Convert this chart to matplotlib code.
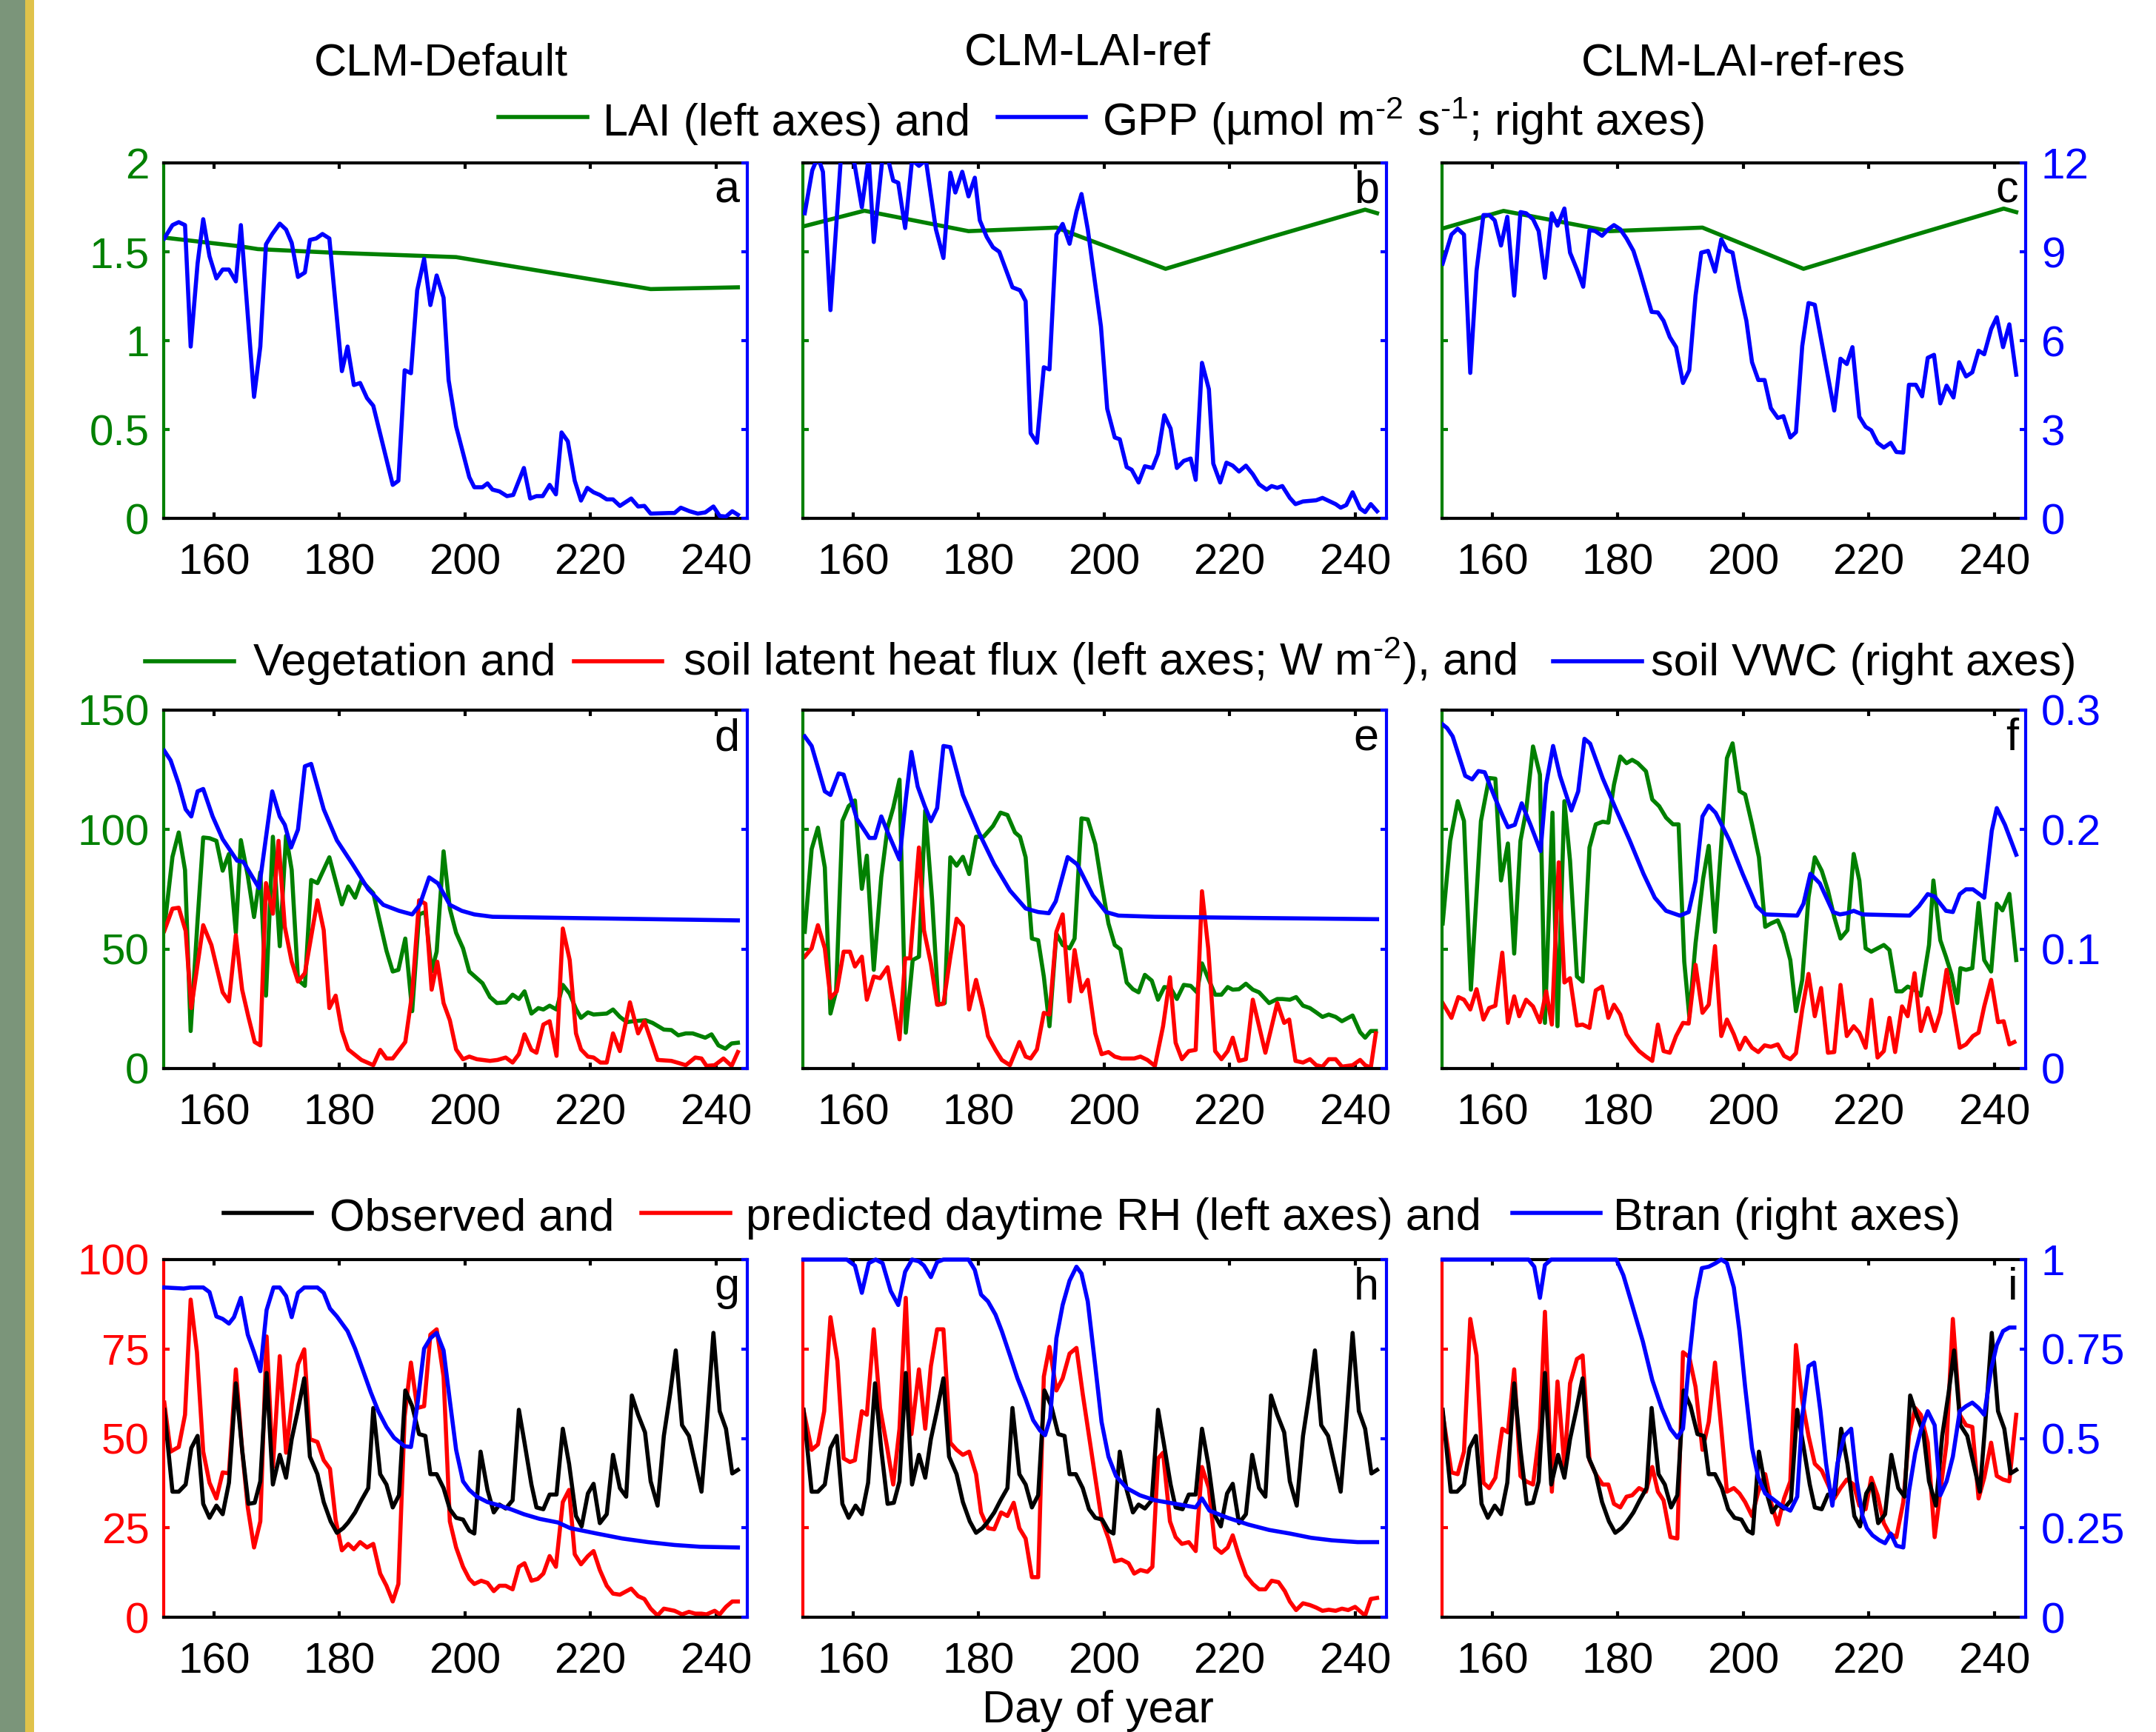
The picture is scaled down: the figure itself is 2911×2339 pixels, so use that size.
import matplotlib
matplotlib.use("Agg")
import matplotlib.pyplot as plt
from matplotlib.lines import Line2D
from matplotlib.patches import Rectangle

plt.rcParams['font.family'] = ['Liberation Sans', 'DejaVu Sans']
plt.rcParams['mathtext.fontset'] = 'custom'
plt.rcParams['mathtext.rm'] = 'Liberation Sans'
plt.rcParams['mathtext.it'] = 'Liberation Sans:italic'
plt.rcParams['mathtext.bf'] = 'Liberation Sans:bold'
plt.rcParams['mathtext.default'] = 'rm'

# ---------------- text / ticks ----------------
model_titles = ['CLM-Default', 'CLM-LAI-ref', 'CLM-LAI-ref-res']
panel_letters = [['a', 'b', 'c'], ['d', 'e', 'f'], ['g', 'h', 'i']]
x_ticks = [160, 180, 200, 220, 240]
x_label = 'Day of year'
legend_row1 = ['LAI (left axes) and', 'GPP (µmol m$^{\u20102}$ s$^{\u20101}$; right axes)']
legend_row2 = ['Vegetation and', 'soil latent heat flux (left axes; W m$^{\u20102}$), and', 'soil VWC (right axes)']
legend_row3 = ['Observed and', 'predicted daytime RH (left axes) and', 'Btran (right axes)']

lai_ticks = [0, 0.5, 1, 1.5, 2]
lai_ticklabels = ['0', '0.5', '1', '1.5', '2']
gpp_ticks = [0, 3, 6, 9, 12]
gpp_ticklabels = ['0', '3', '6', '9', '12']
le_ticks = [0, 50, 100, 150]
le_ticklabels = ['0', '50', '100', '150']
vwc_ticks = [0, 0.1, 0.2, 0.3]
vwc_ticklabels = ['0', '0.1', '0.2', '0.3']
rh_ticks = [0, 25, 50, 75, 100]
rh_ticklabels = ['0', '25', '50', '75', '100']
btran_ticks = [0, 0.25, 0.5, 0.75, 1]
btran_ticklabels = ['0', '0.25', '0.5', '0.75', '1']

# ---------------- data: (day of year, value) ----------------
lai_a = [(152, 1.58), (164.3, 1.53), (167, 1.515), (178.8, 1.495), (198.6, 1.47), (229.6, 1.29), (243.5, 1.30)]
lai_b = [(152, 1.642), (161.8, 1.731), (178.4, 1.616), (192.4, 1.636), (209.8, 1.404), (226.3, 1.58), (241.6, 1.737), (243.5, 1.717)]
lai_c = [(152, 1.63), (161.8, 1.73), (178.7, 1.616), (193.5, 1.636), (209.6, 1.404), (226.5, 1.586), (241.5, 1.743), (243.5, 1.723)]

gpp_a = [(152.1,9.45),(153.4,9.9),(154.4,10.0),(155.4,9.9),(156.3,5.8),(157.4,8.6),(158.3,10.1),(159.3,8.85),(160.4,8.1),(161.4,8.4),(162.4,8.4),(163.5,8.0),(164.3,9.9),(166.4,4.1),(167.4,5.8),(168.3,9.25),(169.3,9.6),(170.5,9.95),(171.5,9.75),(172.4,9.3),(173.4,8.15),(174.5,8.3),(175.3,9.4),(176.3,9.45),(177.3,9.6),(178.4,9.45),(180.4,4.97),(181.3,5.8),(182.3,4.5),(183.3,4.57),(184.4,4.06),(185.4,3.8),(188.5,1.13),(189.4,1.27),(190.4,5.0),(191.4,4.9),(192.4,7.7),(193.5,8.76),(194.5,7.2),(195.5,8.2),(196.6,7.45),(197.4,4.67),(198.6,3.1),(200.7,1.39),(201.5,1.05),(202.8,1.05),(203.6,1.18),(204.4,0.97),(205.5,0.91),(206.7,0.75),(207.7,0.79),(209.4,1.70),(210.4,0.67),(211.4,0.75),(212.4,0.75),(213.5,1.13),(214.5,0.81),(215.4,2.9),(216.4,2.6),(217.5,1.27),(218.5,0.6),(219.5,1.03),(220.5,0.88),(221.5,0.79),(222.6,0.64),(223.6,0.64),(224.7,0.42),(226.5,0.67),(227.6,0.4),(228.6,0.42),(229.6,0.16),(232.5,0.18),(233.4,0.18),(234.4,0.36),(235.8,0.24),(237.1,0.16),(238.3,0.2),(239.6,0.4),(240.6,0.08),(241.6,0.06),(242.6,0.24),(243.5,0.12)]
gpp_b = [(152.3,10.3),(153.5,11.75),(154.4,12.2),(155.2,11.7),(156.4,7.03),(158.1,12.3),(159.8,12.5),(161.4,10.5),(162.5,12.2),(163.3,9.33),(164.7,12.2),(165.5,12.2),(166.4,11.4),(167.2,11.33),(168.3,9.8),(169.4,12.1),(170.5,11.9),(171.6,12.1),(173.2,9.76),(174.4,8.79),(175.5,11.67),(176.3,11.0),(177.4,11.7),(178.4,10.87),(179.4,11.5),(180.2,10.06),(181.3,9.5),(182.3,9.15),(183.3,9.0),(185.4,7.8),(186.6,7.7),(187.5,7.33),(188.3,2.87),(189.3,2.55),(190.4,5.1),(191.3,5.03),(192.4,9.58),(193.4,9.94),(194.5,9.27),(195.6,10.36),(196.4,10.95),(197.4,9.76),(199.5,6.48),(200.5,3.7),(201.7,2.73),(202.5,2.67),(203.6,1.73),(204.4,1.64),(205.5,1.21),(206.5,1.76),(207.7,1.7),(208.6,2.18),(209.6,3.48),(210.6,3.03),(211.6,1.7),(212.7,1.94),(213.8,2.02),(214.6,1.3),(215.6,5.25),(216.7,4.36),(217.4,1.85),(218.5,1.21),(219.5,1.88),(220.5,1.78),(221.5,1.58),(222.6,1.78),(223.7,1.49),(224.7,1.15),(225.9,0.97),(226.7,1.09),(227.6,1.03),(228.4,1.09),(229.6,0.69),(230.5,0.48),(231.7,0.57),(233.8,0.61),(234.8,0.69),(236.9,0.48),(237.7,0.36),(238.6,0.45),(239.6,0.88),(240.8,0.33),(241.6,0.21),(242.5,0.48),(243.5,0.24)]
gpp_c = [(152.1,8.6),(153.5,9.58),(154.5,9.78),(155.5,9.58),(156.5,4.91),(157.5,8.36),(158.6,10.24),(159.5,10.24),(160.4,10.06),(161.4,9.21),(162.4,10.18),(163.5,7.52),(164.5,10.34),(165.4,10.3),(166.5,10.1),(167.4,9.7),(168.4,8.12),(169.5,10.3),(170.4,9.88),(171.5,10.46),(172.4,8.97),(173.5,8.4),(174.5,7.82),(175.5,9.73),(176.4,9.7),(177.5,9.54),(178.5,9.76),(179.4,9.9),(180.4,9.76),(181.4,9.45),(182.5,9.03),(183.5,8.36),(185.4,6.97),(186.4,6.95),(187.3,6.67),(188.3,6.12),(189.3,5.78),(190.4,4.57),(191.4,5.0),(192.4,7.52),(193.3,8.97),(194.4,9.03),(195.5,8.33),(196.5,9.42),(197.4,9.05),(198.3,8.97),(199.4,7.72),(200.5,6.67),(201.4,5.27),(202.4,4.67),(203.4,4.67),(204.4,3.72),(205.5,3.39),(206.4,3.45),(207.5,2.73),(208.4,2.91),(209.4,5.82),(210.4,7.27),(211.4,7.21),(214.5,3.64),(215.5,5.39),(216.5,5.21),(217.4,5.78),(218.5,3.43),(219.5,3.09),(220.4,2.97),(221.4,2.55),(222.4,2.39),(223.5,2.55),(224.4,2.24),(225.5,2.22),(226.4,4.51),(227.5,4.51),(228.5,4.12),(229.4,5.42),(230.4,5.52),(231.4,3.88),(232.4,4.48),(233.5,4.08),(234.4,5.27),(235.5,4.79),(236.5,4.93),(237.5,5.66),(238.4,5.54),(239.5,6.39),(240.4,6.79),(241.4,5.78),(242.4,6.55),(243.5,4.85)]

veg_d = [(152.1,58.6),(153.4,88.6),(154.4,98.8),(155.4,83.1),(156.3,15.7),(157.4,62.0),(158.3,96.7),(159.3,96.4),(160.4,95.3),(161.4,82.8),(162.4,89.8),(163.5,56.8),(164.3,95.6),(165.4,80.7),(166.4,63.4),(167.4,82.1),(168.3,30.5),(169.4,97.0),(170.5,51.2),(171.5,97.4),(172.4,83.1),(173.4,37.1),(174.5,34.6),(175.5,78.9),(176.5,77.6),(178.4,88.4),(180.4,68.7),(181.4,76.2),(182.5,71.5),(183.5,78.7),(185.4,73.4),(187.5,49.3),(188.5,40.6),(189.4,41.3),(190.5,54.4),(191.6,24.0),(192.7,64.5),(193.7,65.5),(194.7,40.6),(195.5,48.9),(196.6,90.9),(197.6,66.9),(198.6,56.8),(199.7,50.3),(200.7,40.6),(202.8,35.7),(204.0,29.9),(205.1,27.4),(206.5,27.7),(207.6,30.9),(208.6,29.1),(209.5,32.3),(210.6,23.0),(211.7,25.3),(212.5,24.7),(213.5,26.3),(214.6,24.7),(215.6,35.0),(216.7,31.3),(217.7,24.9),(218.5,21.2),(219.6,23.5),(220.5,22.6),(222.6,23.0),(223.6,24.7),(224.7,21.6),(225.8,19.4),(226.8,19.8),(228.8,20.2),(229.9,19.1),(231.7,16.3),(232.9,16.1),(234.0,13.9),(235.2,14.7),(236.3,14.7),(238.3,12.9),(239.3,14.3),(240.4,9.7),(241.5,8.3),(242.5,10.5),(243.5,10.8)]
soil_d = [(152.1,57.6),(153.4,66.9),(154.4,67.3),(155.5,57.6),(156.4,25.3),(158.3,60.0),(159.6,51.7),(161.4,31.9),(162.4,28.1),(163.5,55.8),(164.5,33.0),(165.5,21.6),(166.5,11.1),(167.4,9.7),(168.3,77.6),(169.4,64.8),(170.3,95.3),(171.3,59.3),(172.4,44.7),(173.4,36.4),(174.5,39.9),(176.5,70.4),(177.5,57.9),(178.4,25.3),(179.4,30.5),(180.4,15.7),(181.4,8.0),(183.5,3.6),(185.4,1.4),(186.5,7.8),(187.5,4.2),(188.5,4.2),(190.5,11.1),(191.6,31.6),(192.7,70.4),(193.7,69.0),(194.7,33.0),(195.6,44.7),(196.6,27.4),(197.6,20.2),(198.6,8.0),(199.7,3.9),(200.7,5.0),(201.9,3.9),(204.0,3.2),(205.2,3.6),(206.5,4.6),(207.6,2.5),(208.6,6.0),(209.5,14.3),(210.6,7.8),(211.4,6.6),(212.5,18.4),(213.5,19.8),(214.6,5.3),(215.6,58.6),(216.7,45.4),(217.7,14.7),(218.5,8.0),(219.6,5.0),(220.5,4.6),(221.6,2.5),(222.6,2.5),(223.6,14.7),(224.7,7.3),(226.3,27.7),(227.6,14.7),(228.6,19.8),(229.6,12.2),(230.7,3.6),(232.9,3.2),(234.2,2.2),(235.2,1.4),(236.7,4.6),(237.7,4.2),(238.5,1.1),(239.8,1.4),(241.2,4.2),(242.5,1.1),(243.5,6.9)]
vwc_d = [(152.1,0.266),(153.1,0.258),(154.4,0.238),(155.5,0.217),(156.4,0.211),(157.4,0.232),(158.3,0.234),(159.8,0.211),(161.4,0.192),(163.7,0.174),(164.7,0.173),(167.2,0.151),(169.3,0.232),(170.5,0.211),(171.3,0.204),(172.3,0.185),(173.4,0.2),(174.5,0.253),(175.5,0.255),(177.5,0.217),(179.6,0.191),(182.1,0.171),(184.6,0.150),(187.0,0.137),(189.5,0.132),(191.6,0.129),(192.8,0.137),(194.3,0.160),(195.7,0.155),(197.6,0.137),(199.5,0.132),(201.5,0.129),(204.4,0.127),(216.8,0.126),(243.5,0.124)]

veg_e = [(152.3,57.2),(153.4,91.8),(154.4,100.8),(155.5,84.2),(156.4,23.0),(157.3,32.3),(158.3,103.6),(159.3,109.8),(160.3,112.2),(161.4,75.2),(162.2,89.1),(163.3,41.3),(164.5,80.1),(165.5,100.8),(166.4,109.1),(167.4,120.9),(168.4,15.0),(169.5,45.4),(170.5,46.8),(171.5,108.0),(172.6,70.4),(173.6,26.7),(174.6,27.4),(175.5,88.4),(176.5,84.9),(177.5,88.6),(178.5,81.4),(179.6,97.0),(180.8,97.0),(182.3,101.5),(183.5,107.1),(184.6,106.1),(185.8,98.8),(186.6,97.0),(187.5,88.4),(188.5,54.4),(189.5,53.7),(190.4,38.5),(191.3,17.7),(192.4,56.5),(193.4,51.7),(194.5,50.3),(195.3,54.4),(196.4,104.7),(197.4,104.3),(198.6,93.9),(199.6,77.3),(200.7,60.7),(201.7,51.7),(202.6,49.9),(203.6,36.0),(204.6,33.2),(205.5,31.9),(206.5,39.2),(207.6,36.8),(208.6,28.8),(209.6,34.1),(210.6,33.7),(211.6,29.1),(212.7,35.0),(213.8,34.6),(214.8,31.9),(215.6,44.0),(216.7,37.1),(217.7,30.9),(218.7,30.9),(219.7,34.1),(220.5,33.0),(221.5,33.2),(222.6,35.5),(223.7,33.0),(224.7,31.9),(226.3,27.4),(227.6,29.1),(228.4,29.1),(229.6,28.8),(230.6,29.9),(231.7,26.3),(232.8,25.3),(233.8,23.5),(234.8,21.6),(235.8,22.6),(236.9,21.6),(237.9,19.8),(239.6,22.2),(240.8,15.2),(241.6,12.9),(242.5,15.7),(243.3,15.7)]
soil_e = [(152.3,46.8),(153.4,50.3),(154.4,60.0),(155.5,50.3),(156.4,29.5),(157.4,32.3),(158.5,48.9),(159.5,48.9),(160.3,42.7),(161.4,46.8),(162.2,28.8),(163.3,38.5),(164.3,37.8),(165.5,42.4),(166.6,25.3),(167.4,12.2),(168.3,46.1),(169.1,46.1),(170.5,92.5),(171.3,57.9),(172.4,44.0),(173.4,26.7),(174.4,27.1),(175.5,46.8),(176.5,62.7),(177.5,59.6),(178.5,24.7),(179.6,37.1),(180.7,24.9),(181.5,13.6),(182.7,7.8),(183.7,3.6),(185.0,1.4),(186.5,11.1),(187.5,5.0),(188.3,4.2),(189.3,8.0),(190.4,23.3),(191.3,22.6),(192.4,57.2),(193.4,64.5),(194.5,28.1),(195.3,49.6),(196.4,32.3),(197.4,37.1),(198.6,14.7),(199.6,6.0),(200.7,6.9),(201.7,5.0),(202.8,4.2),(204.8,4.2),(205.8,5.0),(206.9,3.6),(208.1,1.1),(209.4,17.7),(210.5,38.2),(211.4,10.8),(212.4,3.9),(213.5,7.3),(214.6,7.8),(215.6,74.2),(216.6,50.3),(217.7,7.3),(218.7,3.9),(219.7,7.3),(220.5,12.9),(221.5,3.2),(222.6,3.9),(223.7,28.8),(224.7,17.7),(225.7,6.6),(227.6,27.4),(228.7,19.1),(229.5,20.5),(230.5,3.2),(231.7,2.5),(232.8,3.9),(233.8,1.4),(234.8,0.8),(235.8,3.9),(236.9,3.9),(237.9,0.8),(239.6,1.4),(240.8,3.6),(241.6,1.4),(242.5,0.4),(243.3,14.7)]
vwc_e = [(152.3,0.278),(153.4,0.270),(154.4,0.252),(155.5,0.232),(156.4,0.229),(157.7,0.247),(158.5,0.246),(160.6,0.209),(162.6,0.193),(163.5,0.193),(164.5,0.211),(165.5,0.198),(167.4,0.175),(168.4,0.225),(169.3,0.265),(170.3,0.236),(171.4,0.220),(172.4,0.207),(173.4,0.218),(174.4,0.270),(175.5,0.269),(177.5,0.229),(180.0,0.198),(182.5,0.171),(185.0,0.149),(187.5,0.134),(189.5,0.131),(191.2,0.130),(192.3,0.140),(194.2,0.177),(195.7,0.171),(198.2,0.145),(200.3,0.131),(202.3,0.128),(208.1,0.127),(224.7,0.126),(243.5,0.125)]

veg_f = [(152.1,60.7),(153.3,95.3),(154.5,111.9),(155.5,103.6),(156.6,33.0),(158.2,103.6),(159.5,121.6),(160.5,121.3),(161.4,78.7),(162.5,94.2),(163.5,48.1),(164.5,95.3),(165.4,107.8),(166.5,134.8),(167.6,123.0),(168.4,19.1),(169.6,107.1),(170.4,17.7),(171.5,111.9),(172.4,87.0),(173.5,38.5),(174.4,36.4),(175.5,92.5),(176.5,102.2),(177.6,103.3),(178.5,102.9),(179.4,118.8),(180.4,130.6),(181.4,127.8),(182.3,129.2),(183.2,127.8),(184.5,124.4),(185.5,112.6),(186.6,109.8),(187.7,105.0),(188.8,102.2),(189.7,102.2),(190.6,44.7),(191.4,21.9),(192.4,52.4),(193.6,79.4),(194.5,93.2),(195.5,57.2),(196.5,93.9),(197.4,129.9),(198.3,136.1),(199.4,116.1),(200.3,114.7),(201.4,102.2),(202.5,88.4),(203.5,59.3),(204.4,60.7),(205.5,62.0),(206.4,56.5),(207.5,45.4),(208.4,24.0),(209.4,37.1),(210.4,71.7),(211.4,88.4),(212.5,82.8),(213.5,74.5),(214.5,63.4),(215.5,54.4),(216.6,57.9),(217.6,89.8),(218.5,78.7),(219.5,50.3),(220.4,48.9),(221.4,50.3),(222.4,51.7),(223.3,49.6),(224.4,32.3),(225.3,32.3),(226.2,34.3),(227.3,33.0),(228.3,30.5),(229.6,51.7),(230.3,78.7),(231.4,53.7),(232.3,46.8),(233.2,39.2),(234.1,27.4),(234.6,42.0),(235.5,41.3),(236.5,42.0),(237.5,69.3),(238.4,45.4),(239.5,40.6),(240.4,69.0),(241.3,66.2),(242.4,73.1),(243.5,45.4)]
soil_f = [(152.1,27.4),(153.5,21.2),(154.6,29.9),(155.5,28.8),(156.5,24.7),(157.5,33.2),(158.6,20.5),(159.5,25.3),(160.5,26.3),(161.6,48.5),(162.5,19.1),(163.5,30.2),(164.3,21.9),(165.4,28.8),(166.5,26.0),(167.6,19.4),(168.6,32.3),(169.5,18.4),(170.6,86.3),(171.5,36.0),(172.4,37.8),(173.5,18.0),(174.4,18.4),(175.5,17.0),(176.5,32.7),(177.5,34.3),(178.5,21.2),(179.4,26.7),(180.4,22.6),(181.4,14.3),(182.3,10.8),(183.4,7.3),(184.5,5.0),(185.5,3.2),(186.4,18.4),(187.3,7.3),(188.3,6.6),(189.3,13.6),(190.4,19.1),(191.3,18.8),(192.4,43.4),(193.5,23.3),(194.5,26.7),(195.5,51.2),(196.5,13.6),(197.4,20.5),(198.5,14.3),(199.4,8.0),(200.3,12.9),(201.4,8.7),(202.4,6.9),(203.4,9.7),(204.4,9.1),(205.5,10.1),(206.5,5.3),(207.5,3.9),(208.4,6.4),(209.4,24.7),(210.4,39.6),(211.4,21.9),(212.4,33.7),(213.5,6.6),(214.5,6.9),(215.5,35.0),(216.5,13.6),(217.6,17.7),(218.5,15.0),(219.5,8.7),(220.4,28.8),(221.4,4.6),(222.4,7.3),(223.3,21.2),(224.2,6.9),(225.3,26.0),(226.2,21.9),(227.3,39.9),(228.3,15.7),(229.4,25.3),(230.5,15.7),(231.4,23.3),(232.4,41.3),(233.4,26.0),(234.5,8.7),(235.5,10.1),(236.6,13.6),(237.5,15.0),(238.4,26.0),(239.5,37.1),(240.6,19.4),(241.5,19.8),(242.4,10.1),(243.2,11.1)]
vwc_f = [(152.1,0.288),(152.8,0.285),(153.7,0.278),(155.7,0.245),(156.8,0.242),(157.8,0.249),(158.8,0.248),(160.4,0.227),(161.7,0.211),(162.5,0.202),(163.6,0.204),(164.7,0.222),(166.1,0.204),(167.7,0.182),(168.6,0.238),(169.7,0.270),(170.8,0.245),(172.6,0.216),(173.7,0.232),(174.7,0.276),(175.6,0.272),(177.6,0.243),(179.8,0.216),(181.9,0.191),(184.1,0.163),(185.9,0.143),(187.7,0.132),(189.9,0.128),(191.3,0.131),(192.4,0.157),(193.5,0.211),(194.5,0.220),(195.6,0.214),(197.8,0.191),(199.9,0.163),(202.1,0.136),(203.5,0.129),(208.6,0.128),(209.6,0.138),(210.7,0.163),(212.2,0.155),(214.3,0.131),(215.4,0.129),(216.5,0.130),(217.6,0.132),(219.0,0.129),(226.5,0.128),(228.0,0.136),(229.4,0.146),(230.5,0.144),(232.3,0.132),(233.4,0.131),(234.5,0.146),(235.5,0.150),(236.6,0.150),(238.4,0.143),(239.6,0.199),(240.4,0.218),(241.7,0.204),(243.5,0.179)]

rh_observed = [(152.1,58.0),(153.4,35.1),(154.4,35.1),(155.5,37.1),(156.4,47.3),(157.4,50.7),(158.3,31.7),(159.3,27.8),(160.4,31.2),(161.4,28.8),(162.4,37.6),(163.5,65.4),(164.5,46.8),(165.5,31.7),(166.5,32.0),(167.4,38.0),(168.4,68.3),(169.4,37.1),(170.5,45.4),(171.5,39.0),(172.4,49.8),(173.4,58.0),(174.4,66.8),(175.3,44.9),(176.5,40.0),(177.5,32.2),(178.6,26.8),(179.6,23.6),(180.6,24.9),(181.4,26.5),(182.5,29.3),(183.5,32.7),(184.6,36.1),(185.4,58.5),(186.5,40.0),(187.5,37.1),(188.5,30.7),(189.5,34.1),(190.5,63.4),(191.6,59.0),(192.7,51.2),(193.7,50.7),(194.5,40.0),(195.5,40.0),(196.6,36.1),(197.6,30.2),(198.6,27.8),(199.7,27.3),(200.7,24.2),(201.5,23.4),(202.5,46.3),(203.6,35.6),(204.6,29.3),(205.5,31.5),(206.5,30.4),(207.6,32.7),(208.6,58.0),(209.5,48.8),(210.6,37.1),(211.4,30.7),(212.5,30.2),(213.5,34.3),(214.6,34.3),(215.6,52.7),(216.6,42.9),(217.7,28.3),(218.6,25.4),(219.6,34.6),(220.5,37.3),(221.5,26.3),(222.6,28.8),(223.6,45.4),(224.7,36.1),(225.7,33.7),(226.6,62.0),(227.6,56.6),(228.7,51.7),(229.6,38.0),(230.7,31.2),(231.7,50.7),(232.7,62.4),(233.6,74.6),(234.6,53.7),(235.7,50.7),(236.7,42.9),(237.7,35.1),(238.5,52.7),(239.6,79.5),(240.6,57.6),(241.6,52.7),(242.6,40.2),(243.5,41.2)]

rh_pred_g = [(152.1,60.0),(153.1,46.3),(154.4,47.6),(155.4,56.6),(156.3,88.8),(157.3,74.1),(158.3,46.3),(159.3,37.6),(160.4,33.2),(161.4,40.5),(162.4,40.2),(163.5,69.3),(164.5,46.8),(165.4,30.7),(166.4,19.5),(167.4,26.8),(168.4,78.5),(169.4,41.9),(170.5,73.0),(171.5,46.0),(172.4,59.5),(173.4,70.7),(174.4,74.9),(175.3,49.8),(176.5,49.0),(177.5,43.9),(178.5,41.5),(179.4,27.3),(180.4,18.7),(181.4,20.5),(182.3,19.0),(183.3,21.0),(184.4,19.5),(185.4,20.5),(186.5,12.2),(187.5,8.8),(188.5,4.4),(189.4,9.3),(190.4,56.1),(191.4,71.2),(192.4,58.5),(193.5,59.0),(194.5,79.0),(195.5,80.5),(196.6,67.3),(197.6,26.8),(198.6,19.5),(199.7,14.1),(200.7,10.7),(201.5,9.3),(202.6,10.2),(203.6,9.6),(204.6,7.3),(205.5,8.8),(206.5,8.8),(207.6,7.8),(208.6,14.1),(209.5,15.1),(210.6,10.2),(211.6,10.7),(212.5,12.2),(213.5,17.1),(214.5,14.1),(215.6,32.2),(216.6,35.6),(217.5,17.6),(218.5,14.8),(219.6,17.1),(220.5,18.5),(221.5,13.2),(222.6,8.8),(223.6,6.6),(224.7,6.3),(226.5,8.0),(227.6,5.9),(228.6,5.1),(229.6,2.4),(230.7,0.5),(231.7,2.4),(233.4,1.8),(234.6,0.8),(235.7,1.5),(236.7,1.0),(237.7,1.0),(238.5,0.8),(239.8,1.8),(240.6,0.8),(241.6,2.9),(242.6,4.4),(243.5,4.4)]
rh_pred_h = [(152.1,58.0),(153.4,46.8),(154.4,48.3),(155.4,57.6),(156.4,83.9),(157.5,71.7),(158.5,44.4),(159.5,43.4),(160.3,43.9),(161.4,57.6),(162.2,56.6),(163.3,80.5),(164.3,58.5),(165.4,47.8),(166.4,37.1),(167.4,52.7),(168.4,89.3),(169.3,51.2),(170.5,69.3),(171.5,52.7),(172.4,70.2),(173.4,80.5),(174.4,80.5),(175.5,48.8),(176.5,46.8),(177.5,45.4),(178.5,46.3),(179.6,40.0),(180.4,29.3),(181.5,24.9),(182.5,24.6),(183.6,29.3),(184.6,28.3),(185.6,32.0),(186.5,24.9),(187.5,22.0),(188.5,11.2),(189.5,11.2),(190.4,67.3),(191.3,75.6),(192.4,63.4),(193.4,66.8),(194.5,73.7),(195.6,75.3),(196.6,62.4),(197.6,50.7),(198.6,39.0),(199.6,27.3),(200.7,22.0),(201.7,15.6),(202.8,16.1),(203.9,15.1),(204.8,12.2),(205.8,13.2),(206.9,12.7),(207.7,14.1),(208.6,44.4),(209.4,46.0),(210.5,26.8),(211.4,22.4),(212.4,20.5),(213.5,21.0),(214.6,18.5),(215.6,42.0),(216.7,36.1),(217.7,19.5),(218.7,18.0),(219.7,19.5),(220.5,22.9),(221.5,17.1),(222.6,11.7),(223.7,9.3),(224.7,7.8),(225.7,7.8),(226.7,10.2),(227.8,9.8),(228.8,7.3),(229.6,4.4),(230.6,2.0),(231.7,3.9),(232.8,3.4),(233.8,2.7),(234.8,1.8),(235.8,2.1),(236.9,1.8),(237.9,2.4),(238.9,2.0),(240.0,2.9),(241.1,1.2),(241.6,0.5),(242.5,5.1),(243.5,5.4)]
rh_pred_i = [(152.1,57.0),(153.5,40.5),(154.5,40.0),(155.5,46.3),(156.5,83.4),(157.5,73.2),(158.6,37.6),(159.5,36.1),(160.5,39.0),(161.6,52.7),(162.5,51.7),(163.5,69.3),(164.5,39.5),(165.4,38.0),(166.5,37.1),(167.6,52.7),(168.4,85.4),(169.5,35.1),(170.4,65.9),(171.5,42.4),(172.4,65.4),(173.5,72.2),(174.4,73.2),(175.5,43.9),(176.5,40.0),(177.6,37.1),(178.5,37.1),(179.4,31.7),(180.4,30.7),(181.4,33.7),(182.3,34.1),(183.4,36.1),(184.5,35.1),(185.5,42.0),(186.4,35.1),(187.3,32.7),(188.4,22.4),(189.5,22.0),(190.4,74.1),(191.4,72.7),(192.4,64.4),(193.5,46.8),(194.5,54.6),(195.5,71.2),(196.5,52.7),(197.4,35.1),(198.5,36.1),(199.4,34.6),(200.3,32.2),(201.4,28.3),(202.4,35.1),(203.5,40.0),(204.4,32.2),(205.5,25.9),(206.5,33.2),(207.5,38.0),(208.4,76.1),(209.4,60.5),(210.4,50.7),(211.4,42.9),(212.5,41.0),(213.5,37.1),(214.5,33.2),(215.5,36.1),(216.5,38.5),(217.6,37.1),(218.5,31.2),(219.5,30.2),(220.4,39.0),(221.4,34.1),(222.4,26.3),(223.3,23.4),(224.4,22.4),(225.5,32.2),(226.4,50.7),(227.4,58.5),(228.3,56.6),(229.4,48.8),(230.5,22.4),(231.4,35.1),(232.4,48.8),(233.4,83.4),(234.5,56.6),(235.5,53.7),(236.5,53.2),(237.5,33.2),(238.4,39.0),(239.5,48.8),(240.4,39.5),(241.4,38.5),(242.4,38.0),(243.5,56.6)]

btran_g = [(152.1,0.922),(155.2,0.919),(156.3,0.922),(158.3,0.922),(159.3,0.909),(160.4,0.841),(161.4,0.834),(162.4,0.821),(163.2,0.839),(164.3,0.893),(165.4,0.79),(166.4,0.741),(167.4,0.688),(168.4,0.859),(169.5,0.922),(170.5,0.922),(171.5,0.898),(172.4,0.839),(173.4,0.907),(174.4,0.922),(176.5,0.922),(177.5,0.907),(178.5,0.863),(179.6,0.841),(181.3,0.8),(182.5,0.751),(183.7,0.693),(185.0,0.629),(186.2,0.576),(187.5,0.532),(188.7,0.502),(190.4,0.478),(191.4,0.476),(192.4,0.59),(193.5,0.751),(194.5,0.78),(195.5,0.795),(196.6,0.746),(197.6,0.605),(198.6,0.468),(199.7,0.380),(200.7,0.356),(201.9,0.337),(203.6,0.322),(205.2,0.314),(207.3,0.302),(209.4,0.288),(211.9,0.275),(214.8,0.265),(216.8,0.249),(221.0,0.234),(225.1,0.22),(229.2,0.21),(233.4,0.202),(237.5,0.197),(243.5,0.195)]
btran_h = [(152.1,1.0),(159.0,1.0),(160.3,0.983),(161.4,0.907),(162.5,0.99),(163.6,1.0),(164.7,0.99),(166.0,0.912),(167.2,0.873),(168.3,0.966),(169.4,1.0),(170.5,0.995),(171.3,0.983),(172.4,0.951),(173.4,0.993),(174.4,1.0),(178.4,1.0),(179.4,0.971),(180.4,0.902),(181.5,0.883),(182.7,0.846),(183.7,0.8),(185.0,0.732),(186.2,0.668),(187.5,0.61),(188.7,0.551),(189.8,0.522),(190.6,0.509),(191.4,0.556),(192.4,0.78),(193.4,0.873),(194.5,0.941),(195.6,0.98),(196.4,0.961),(197.4,0.883),(198.6,0.702),(199.6,0.546),(200.7,0.449),(201.9,0.395),(203.6,0.361),(205.7,0.341),(208.1,0.327),(211.4,0.317),(214.6,0.307),(215.6,0.332),(216.8,0.298),(219.7,0.278),(223.0,0.259),(226.3,0.244),(229.6,0.234),(233.0,0.222),(236.3,0.215),(240.4,0.21),(243.5,0.21)]
btran_i = [(152.1,1.0),(165.8,1.0),(166.7,0.98),(167.6,0.893),(168.4,0.985),(169.4,1.0),(179.8,1.0),(180.9,0.956),(182.3,0.873),(184.0,0.771),(185.5,0.663),(187.0,0.585),(188.4,0.527),(189.5,0.502),(190.4,0.527),(191.4,0.722),(192.4,0.888),(193.4,0.976),(194.5,0.98),(195.6,0.99),(196.5,1.0),(197.4,0.99),(198.5,0.922),(199.4,0.8),(200.3,0.644),(201.4,0.473),(202.4,0.39),(203.5,0.346),(204.6,0.332),(205.7,0.317),(206.5,0.307),(207.5,0.298),(208.6,0.337),(209.4,0.561),(210.4,0.702),(211.3,0.712),(212.3,0.576),(213.2,0.429),(214.2,0.312),(215.0,0.429),(216.1,0.507),(217.2,0.527),(218.1,0.38),(219.0,0.283),(219.7,0.249),(220.6,0.229),(221.7,0.215),(222.6,0.207),(223.5,0.234),(224.4,0.2),(225.5,0.195),(226.4,0.351),(227.4,0.459),(228.3,0.522),(229.4,0.576),(230.5,0.537),(231.4,0.341),(232.4,0.38),(233.4,0.449),(234.5,0.576),(235.5,0.59),(236.5,0.6),(237.5,0.585),(238.4,0.566),(239.5,0.693),(240.4,0.761),(241.4,0.8),(242.4,0.81),(243.2,0.81)]

# ---------------- style ----------------
GREEN = '#008000'
BLUE = '#0000ff'
RED = '#ff0000'
BLACK = '#000000'
LW = 4.0
SPINE_LW = 3.0
TICK_FS = 42
TEXT_FS = 44

W, H = 2911, 2339
fig = plt.figure(figsize=(W / 100, H / 100), dpi=100)
fig.patch.set_facecolor('white')

# left decorative strip
fig.add_artist(Rectangle((0, 0), 34 / W, 1, transform=fig.transFigure, facecolor='#7b957a', edgecolor='none'))
fig.add_artist(Rectangle((34 / W, 0), 12 / W, 1, transform=fig.transFigure, facecolor='#e0c24a', edgecolor='none'))

col_left = [221, 1084, 1947]
col_width = 788
row_top = [220, 959, 1701]
row_height = [480, 484, 483]


def xy(series):
    return [p[0] for p in series], [p[1] for p in series]


rows = [
    dict(left=[[lai_a], [lai_b], [lai_c]], left_colors=[GREEN], right=[gpp_a, gpp_b, gpp_c],
         lcol=GREEN, lticks=lai_ticks, llabels=lai_ticklabels, lylim=(0, 2),
         rticks=gpp_ticks, rlabels=gpp_ticklabels, rylim=(0, 12), rclip=True),
    dict(left=[[veg_d, soil_d], [veg_e, soil_e], [veg_f, soil_f]], left_colors=[GREEN, RED], right=[vwc_d, vwc_e, vwc_f],
         lcol=GREEN, lticks=le_ticks, llabels=le_ticklabels, lylim=(0, 150),
         rticks=vwc_ticks, rlabels=vwc_ticklabels, rylim=(0, 0.3), rclip=True),
    dict(left=[[rh_pred_g, rh_observed], [rh_pred_h, rh_observed], [rh_pred_i, rh_observed]], left_colors=[RED, BLACK],
         right=[btran_g, btran_h, btran_i],
         lcol=RED, lticks=rh_ticks, llabels=rh_ticklabels, lylim=(0, 100),
         rticks=btran_ticks, rlabels=btran_ticklabels, rylim=(0, 1), rclip=False),
]

for r, cfg in enumerate(rows):
    for c in range(3):
        rect = [col_left[c] / W, 1 - (row_top[r] + row_height[r]) / H, col_width / W, row_height[r] / H]
        ax = fig.add_axes(rect)
        axr = ax.twinx()
        for s, colr in zip(cfg['left'][c], cfg['left_colors']):
            xs, ys = xy(s)
            ax.plot(xs, ys, color=colr, lw=LW, solid_joinstyle='round')
        xs, ys = xy(cfg['right'][c])
        axr.plot(xs, ys, color=BLUE, lw=LW, clip_on=cfg['rclip'], solid_joinstyle='round')

        ax.set_xlim(152, 245)
        ax.set_ylim(*cfg['lylim'])
        axr.set_ylim(*cfg['rylim'])
        ax.set_xticks(x_ticks)
        ax.set_xticklabels([str(t) for t in x_ticks])
        ax.set_yticks(cfg['lticks'])
        ax.set_yticklabels(cfg['llabels'] if c == 0 else [''] * len(cfg['lticks']))
        axr.set_yticks(cfg['rticks'])
        axr.set_yticklabels(cfg['rlabels'] if c == 2 else [''] * len(cfg['rticks']))

        ax.tick_params(axis='x', direction='in', top=True, bottom=True, length=6, width=SPINE_LW,
                       colors=BLACK, labelsize=TICK_FS, pad=24)
        ax.tick_params(axis='y', direction='in', left=True, right=False, length=6, width=SPINE_LW,
                       colors=cfg['lcol'], labelsize=TICK_FS, pad=14)
        axr.tick_params(axis='y', direction='in', right=True, left=False, length=6, width=SPINE_LW,
                        colors=BLUE, labelsize=TICK_FS, pad=15)

        for sp in ['top', 'bottom']:
            ax.spines[sp].set_color(BLACK)
            ax.spines[sp].set_linewidth(SPINE_LW)
        ax.spines['left'].set_color(cfg['lcol'])
        ax.spines['left'].set_linewidth(SPINE_LW)
        ax.spines['right'].set_visible(False)
        for sp in ['top', 'bottom', 'left']:
            axr.spines[sp].set_visible(False)
        axr.spines['right'].set_color(BLUE)
        axr.spines['right'].set_linewidth(SPINE_LW)

        axr.text(0.987, 0.8875, panel_letters[r][c], transform=axr.transAxes,
                 ha='right', va='baseline', fontsize=TEXT_FS, color=BLACK)

# column titles
fig.text(595 / W, 1 - 102 / H, model_titles[0], ha='center', va='baseline', fontsize=TEXT_FS)
fig.text(1468 / W, 1 - 88 / H, model_titles[1], ha='center', va='baseline', fontsize=TEXT_FS)
fig.text(2354 / W, 1 - 102 / H, model_titles[2], ha='center', va='baseline', fontsize=TEXT_FS)


def legend_item(x0, x1, y_line, color, x_text, y_base, text):
    fig.add_artist(Line2D([x0 / W, x1 / W], [1 - y_line / H, 1 - y_line / H],
                          transform=fig.transFigure, color=color, lw=LW))
    fig.text(x_text / W, 1 - y_base / H, text, ha='left', va='baseline', fontsize=TEXT_FS)


legend_item(673, 793, 158, GREEN, 814, 183, legend_row1[0])
legend_item(1347, 1466, 158, BLUE, 1488, 183, legend_row1[1])

legend_item(196, 316, 893, GREEN, 342, 912, legend_row2[0])
legend_item(775, 894, 893, RED, 922, 912, legend_row2[1])
legend_item(2097, 2217, 893, BLUE, 2229, 912, legend_row2[2])

legend_item(302, 421, 1638, BLACK, 445, 1661, legend_row3[0])
legend_item(866, 986, 1638, RED, 1007, 1661, legend_row3[1])
legend_item(2042, 2161, 1638, BLUE, 2178, 1661, legend_row3[2])

fig.text(1482 / W, 1 - 2326 / H, x_label, ha='center', va='baseline', fontsize=TEXT_FS)

fig.savefig('out.png', dpi=100, facecolor='white')
